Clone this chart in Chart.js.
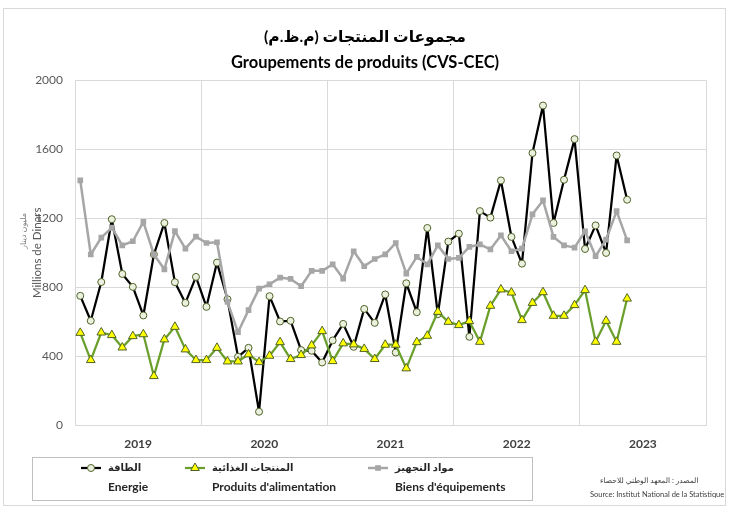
<!DOCTYPE html>
<html>
<head>
<meta charset="utf-8">
<script src="https://cdn.jsdelivr.net/npm/chart.js@4"></script>
<style>
  html, body { margin: 0; padding: 0; background: #fff; }
  canvas { display: block; }
</style>
</head>
<body>
<canvas id="chart" width="730" height="509"></canvas>
<script>
(() => {
  'use strict';

  // years on the x axis (one label per 12 months)
  const YEARS = ['2019', '2020', '2021', '2022', '2023'];

  // monthly values, jan 2019 -> may 2023 (millions of dinars)
  const ENERGIE = [
    750, 605, 830, 1195, 877, 802, 636, 990, 1173, 829, 709, 860,
    686, 943, 730, 396, 448, 77, 748, 601, 605, 435, 431, 363,
    491, 587, 454, 674, 593, 758, 421, 823, 655, 1144, 643, 1065,
    1111, 512, 1242, 1204, 1420, 1092, 937, 1579, 1855, 1173, 1424, 1660,
    1022, 1159, 999, 1565, 1308,
  ];
  const ALIMENTATION = [
    535, 377, 537, 522, 450, 516, 527, 284, 497, 570, 439, 377,
    377, 448, 369, 369, 410, 365, 402, 481, 383, 406, 462, 545,
    371, 474, 468, 442, 383, 466, 466, 329, 481, 518, 657, 599,
    580, 603, 483, 692, 787, 769, 609, 709, 771, 634, 634, 696,
    783, 483, 605, 483, 734,
  ];
  const EQUIPEMENTS = [
    1420, 990, 1088, 1146, 1043, 1067, 1179, 990, 904, 1126, 1024, 1094,
    1057, 1061, 715, 539, 667, 792, 817, 856, 848, 806, 895, 895,
    933, 850, 1009, 922, 964, 991, 1057, 879, 976, 933, 1043, 964,
    970, 1034, 1049, 1020, 1101, 1009, 1024, 1223, 1304, 1092, 1043, 1030,
    1125, 980, 1076, 1242, 1072,
  ];

  // legend texts (arabic, french)
  const NAMES_AR = ['الطاقة', 'المنتجات الغذائية', 'مواد التجهيز'];
  const NAMES_FR = ['Energie', "Produits d'alimentation", "Biens d'équipements"];

  const FONT = "Lato, 'DejaVu Sans', sans-serif";

  // month index -> point in the middle of its month slot
  const toPoints = (arr) => arr.map((v, i) => ({ x: i + 0.5, y: v }));

  // outer frame, arabic axis title, two-line legend, source note
  const decor = {
    id: 'decor',
    beforeDraw(chart) {
      const ctx = chart.ctx;
      ctx.save();
      ctx.strokeStyle = '#d9d9d9';
      ctx.lineWidth = 1;
      ctx.strokeRect(3.5, 8.5, 722, 497);
      ctx.restore();
    },
    afterDraw(chart) {
      const ctx = chart.ctx;
      ctx.save();

      // arabic y axis title (smaller, lighter than the french one)
      ctx.save();
      ctx.translate(23, 231);
      ctx.rotate(-Math.PI / 2);
      ctx.fillStyle = '#7f7f7f';
      ctx.font = '8px ' + FONT;
      ctx.textAlign = 'center';
      ctx.textBaseline = 'middle';
      ctx.fillText('مليون دينار', 0, 0);
      ctx.restore();

      // legend box
      ctx.strokeStyle = '#bfbfbf';
      ctx.lineWidth = 1;
      ctx.strokeRect(32.5, 457.5, 500, 43);

      const entries = [108, 212, 395]; // start x of each arabic label
      chart.data.datasets.forEach((ds, i) => {
        const tx = entries[i], y1 = 468, y2 = 487;
        // sample line + marker
        ctx.strokeStyle = ds.borderColor;
        ctx.lineWidth = ds.borderWidth;
        ctx.beginPath();
        ctx.moveTo(tx - 27, y1);
        ctx.lineTo(tx - 7, y1);
        ctx.stroke();
        ctx.fillStyle = ds.pointBackgroundColor;
        ctx.strokeStyle = ds.pointBorderColor;
        ctx.lineWidth = ds.pointBorderWidth;
        Chart.helpers.drawPoint(ctx, {
          pointStyle: ds.pointStyle,
          radius: ds.pointRadius,
          borderWidth: ds.pointBorderWidth,
          rotation: 0,
        }, tx - 17, y1);

        ctx.fillStyle = '#262626';
        ctx.textBaseline = 'middle';
        ctx.textAlign = 'left';
        ctx.font = 'bold 10px ' + FONT;
        ctx.fillText(NAMES_AR[i], tx, y1);
        ctx.font = 'bold 12px ' + FONT;
        ctx.fillText(NAMES_FR[i], tx, y2);
      });

      // source
      ctx.fillStyle = '#404040';
      ctx.textBaseline = 'middle';
      ctx.textAlign = 'left';
      ctx.font = '7.5px ' + FONT;
      ctx.fillText('المصدر : المعهد الوطني للاحصاء', 600, 481);
      ctx.fillText('Source: Institut National de la Statistique', 590, 495);
      ctx.restore();
    },
  };

  Chart.defaults.font.family = FONT;

  new Chart(document.getElementById('chart'), {
    type: 'line',
    data: {
      datasets: [{
        label: NAMES_FR[0],
        data: toPoints(ENERGIE),
        borderColor: '#000000',
        borderWidth: 2.25,
        borderJoinStyle: 'round',
        pointStyle: 'circle',
        pointRadius: 3.5,
        pointBorderWidth: 1,
        pointBackgroundColor: '#ebf1de',
        pointBorderColor: '#4f6228',
        order: 3,
      }, {
        label: NAMES_FR[1],
        data: toPoints(ALIMENTATION),
        borderColor: '#6a9f2c',
        borderWidth: 2.25,
        borderJoinStyle: 'round',
        pointStyle: 'triangle',
        pointRadius: 5,
        pointBorderWidth: 1,
        pointBackgroundColor: '#ffff00',
        pointBorderColor: '#4f6228',
        order: 2,
      }, {
        label: NAMES_FR[2],
        data: toPoints(EQUIPEMENTS),
        borderColor: '#a6a6a6',
        borderWidth: 2.5,
        borderJoinStyle: 'round',
        pointStyle: 'rect',
        pointRadius: 4,
        pointBorderWidth: 0,
        pointBackgroundColor: '#a6a6a6',
        pointBorderColor: '#a6a6a6',
        order: 1,
      }],
    },
    options: {
      responsive: false,
      animation: false,
      maintainAspectRatio: false,
      layout: { padding: 0 },

      scales: {
        x: {
          type: 'linear',
          min: 0,
          max: 60,
          afterFit: (s) => { s.height = 84; },
          ticks: {
            stepSize: 6,
            autoSkip: false,
            maxRotation: 0,
            padding: 12,
            color: '#404040',
            font: { size: 12, weight: 'bold' },
            callback: (v) => (v % 12 === 6 ? YEARS[(v - 6) / 12] : ''),
          },
          grid: {
            drawTicks: false,
            color: (c) => (c.tick && c.tick.value % 12 === 0 ? '#d9d9d9' : 'rgba(0,0,0,0)'),
          },
          border: { color: '#d9d9d9' },
        },

        y: {
          min: 0,
          max: 2000,
          afterFit: (s) => { s.width = 75; },
          ticks: {
            stepSize: 400,
            padding: 12,
            color: '#595959',
            font: { size: 12 },
            callback: (v) => String(v),
          },
          grid: { drawTicks: false, color: '#d9d9d9' },
          border: { color: '#d9d9d9' },
          title: {
            display: true,
            text: 'Millions de Dinars',
            color: '#595959',
            font: { size: 11.5 },
            padding: { top: 30, bottom: 0 },
          },
        },

        // empty right gutter so the titles stay centred on the whole picture
        yRight: {
          position: 'right',
          afterFit: (s) => { s.width = 24; },
          ticks: { display: false },
          grid: { display: false },
          border: { display: false },
        },
      },

      plugins: {
        legend: { display: false },
        tooltip: { enabled: false },
        title: {
          display: true,
          text: 'مجموعات المنتجات (م.ظ.م)',
          color: '#000000',
          font: { size: 15.5, weight: 'bold', lineHeight: 1.75 },
          padding: { top: 23.5, bottom: 0 },
        },
        subtitle: {
          display: true,
          text: 'Groupements de produits (CVS-CEC)',
          color: '#000000',
          font: { size: 16.5, weight: 'bold', lineHeight: 1.45 },
          padding: { top: 0, bottom: 6 },
        },
      },
    },
    plugins: [decor],
  });
})();
</script>
</body>
</html>
